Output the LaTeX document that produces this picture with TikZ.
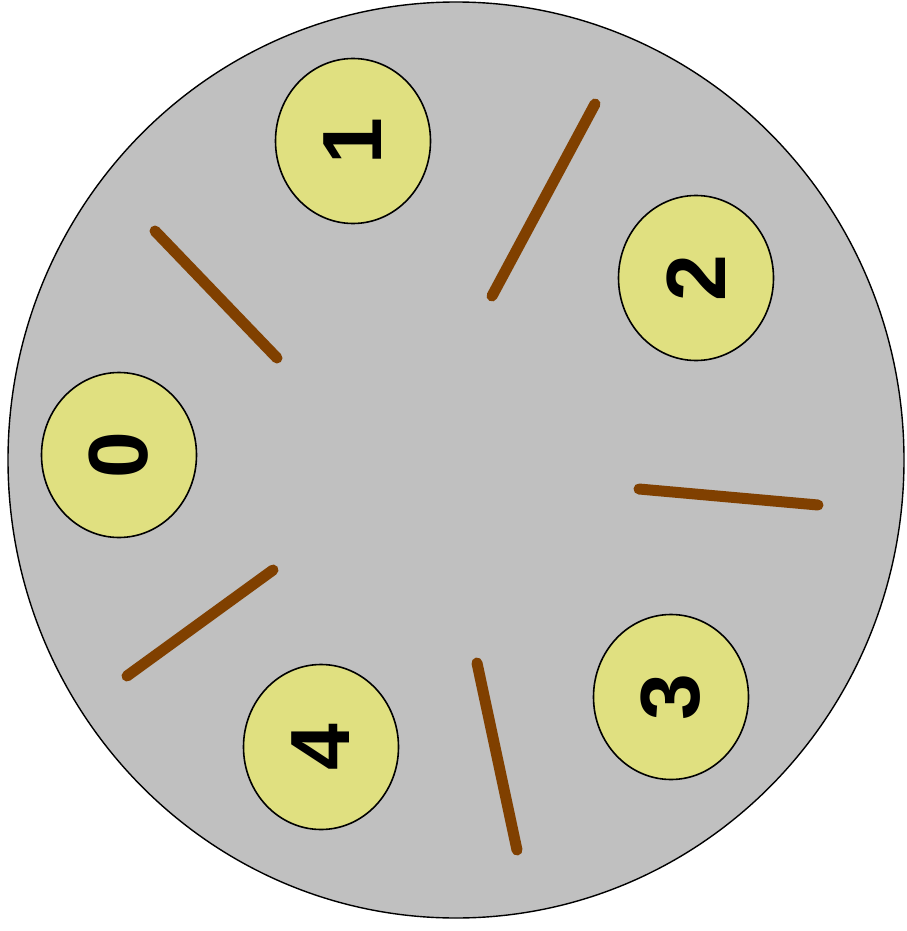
\documentclass[tikz,border=0pt]{standalone}
\usepackage{fontspec}
\setsansfont{Liberation Sans}
\usetikzlibrary{shapes.geometric}
\definecolor{tablegray}{RGB}{192,192,192}
\definecolor{plateyellow}{RGB}{224,224,128}
\definecolor{stickbrown}{RGB}{128,64,0}

\begin{document}
\begin{tikzpicture}[
  x=1pt, y=-1pt,
  plate/.style={ellipse, draw=black, line width=1.6pt, fill=plateyellow,
                rotate=90, minimum width=165pt, minimum height=155pt, inner sep=0pt,
                font=\sffamily\bfseries\fontsize{84}{84}\selectfont},
  stick/.style={draw=stickbrown, line width=11pt, line cap=round},
]
\useasboundingbox (0,0) rectangle (906,931);
% table
\filldraw[fill=tablegray, draw=black, line width=1.4pt] (456,460) ellipse [x radius=448, y radius=458];
% plates
\node[plate] (p0) at (119,455) {0};
\node[plate] (p1) at (353,141) {1};
\node[plate] (p2) at (696,278) {2};
\node[plate] (p3) at (671,697) {3};
\node[plate] (p4) at (321,747) {4};
% chopsticks
\draw[stick] (155,231) -- (277,358);
\draw[stick] (492,296) -- (595,104);
\draw[stick] (639,489) -- (818,505);
\draw[stick] (477,663) -- (517,850);
\draw[stick] (127,676) -- (273,570);
\end{tikzpicture}
\end{document}
